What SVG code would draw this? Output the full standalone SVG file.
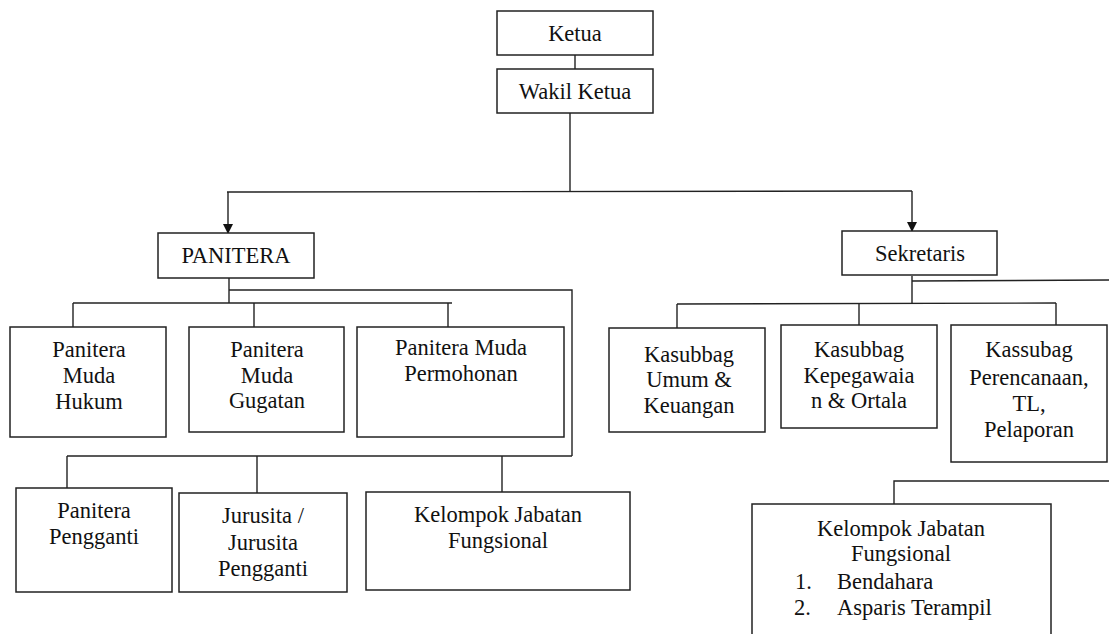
<svg xmlns="http://www.w3.org/2000/svg" width="1109" height="634" viewBox="0 0 1109 634">
<style>
.box{fill:#fff;stroke:#222;stroke-width:1.5}
.ln{fill:none;stroke:#222;stroke-width:1.4}
text{font-family:"Liberation Serif","Times New Roman",serif;font-size:22.5px;fill:#111;text-anchor:middle}
text.l{text-anchor:start}
</style>
<defs>
<marker id="arr" viewBox="0 0 10 10" refX="10" refY="5" markerWidth="10" markerHeight="10" markerUnits="userSpaceOnUse" orient="auto">
<path d="M0,0 L10,5 L0,10 Z" fill="#111"/>
</marker>
</defs>
<rect width="1109" height="634" fill="#fff"/>
<g id="connectors">
<line class="ln" x1="575" y1="48" x2="575" y2="69"/>
<line class="ln" x1="570" y1="113" x2="570" y2="192"/>
<line class="ln" x1="227" y1="192" x2="912" y2="191"/>
<line class="ln" x1="228" y1="192" x2="228" y2="234" marker-end="url(#arr)"/>
<line class="ln" x1="912" y1="191" x2="912" y2="232" marker-end="url(#arr)"/>
<line class="ln" x1="229" y1="278" x2="229" y2="303"/>
<polyline class="ln" points="229,290 572,290 572,456"/>
<line class="ln" x1="73" y1="303" x2="452" y2="303"/>
<line class="ln" x1="73" y1="303" x2="73" y2="327"/>
<line class="ln" x1="254" y1="303" x2="254" y2="327"/>
<line class="ln" x1="448" y1="303" x2="448" y2="327"/>
<line class="ln" x1="67" y1="456" x2="572" y2="456"/>
<line class="ln" x1="67" y1="456" x2="67" y2="488"/>
<line class="ln" x1="257" y1="456" x2="257" y2="493"/>
<line class="ln" x1="502" y1="456" x2="502" y2="492"/>
<line class="ln" x1="912" y1="276" x2="912" y2="304"/>
<line class="ln" x1="912" y1="281" x2="1109" y2="280"/>
<line class="ln" x1="677" y1="304" x2="1056" y2="303"/>
<line class="ln" x1="677" y1="304" x2="677" y2="328"/>
<line class="ln" x1="859" y1="304" x2="859" y2="325"/>
<line class="ln" x1="1056" y1="303" x2="1056" y2="325"/>
<polyline class="ln" points="1109,481 894,481 894,504"/>
</g>
<g id="ketua"><rect class="box" x="497" y="11" width="156" height="44"/><text x="575" y="41">Ketua</text></g>
<g id="wakil-ketua"><rect class="box" x="497" y="69" width="156" height="44"/><text x="575" y="99">Wakil Ketua</text></g>
<g id="panitera"><rect class="box" x="158" y="233" width="156" height="45"/><text x="236" y="263">PANITERA</text></g>
<g id="sekretaris"><rect class="box" x="842" y="231" width="155" height="44"/><text x="920" y="261">Sekretaris</text></g>
<g id="pm-hukum"><rect class="box" x="10" y="327" width="156" height="110"/><text x="89" y="357">Panitera</text><text x="89" y="383">Muda</text><text x="89" y="409">Hukum</text></g>
<g id="pm-gugatan"><rect class="box" x="189" y="327" width="155" height="105"/><text x="267" y="357">Panitera</text><text x="267" y="383">Muda</text><text x="267" y="408">Gugatan</text></g>
<g id="pm-permohonan"><rect class="box" x="357" y="327" width="207" height="110"/><text x="461" y="355">Panitera Muda</text><text x="461" y="381">Permohonan</text></g>
<g id="panitera-pengganti"><rect class="box" x="16" y="488" width="156" height="104"/><text x="94" y="518">Panitera</text><text x="94" y="544">Pengganti</text></g>
<g id="jurusita"><rect class="box" x="179" y="493" width="168" height="99"/><text x="263" y="523">Jurusita /</text><text x="263" y="550">Jurusita</text><text x="263" y="576">Pengganti</text></g>
<g id="kjf-panitera"><rect class="box" x="366" y="492" width="264" height="98"/><text x="498" y="522">Kelompok Jabatan</text><text x="498" y="548">Fungsional</text></g>
<g id="kasubbag-umum"><rect class="box" x="609" y="328" width="156" height="104"/><text x="689" y="362">Kasubbag</text><text x="689" y="387">Umum &amp;</text><text x="689" y="413">Keuangan</text></g>
<g id="kasubbag-kepegawaian"><rect class="box" x="781" y="325" width="156" height="103"/><text x="859" y="357">Kasubbag</text><text x="859" y="383">Kepegawaia</text><text x="859" y="408">n &amp; Ortala</text></g>
<g id="kassubag-perencanaan"><rect class="box" x="951" y="325" width="156" height="137"/><text x="1029" y="357">Kassubag</text><text x="1029" y="385">Perencanaan,</text><text x="1029" y="411">TL,</text><text x="1029" y="437">Pelaporan</text></g>
<g id="kjf-sekretaris"><rect class="box" x="752" y="504" width="299" height="140"/><text x="901" y="536">Kelompok Jabatan</text><text x="901" y="561">Fungsional</text><text class="l" x="795" y="589">1.</text><text class="l" x="837" y="589">Bendahara</text><text class="l" x="794" y="615">2.</text><text class="l" x="837" y="615">Asparis Terampil</text></g>
</svg>
